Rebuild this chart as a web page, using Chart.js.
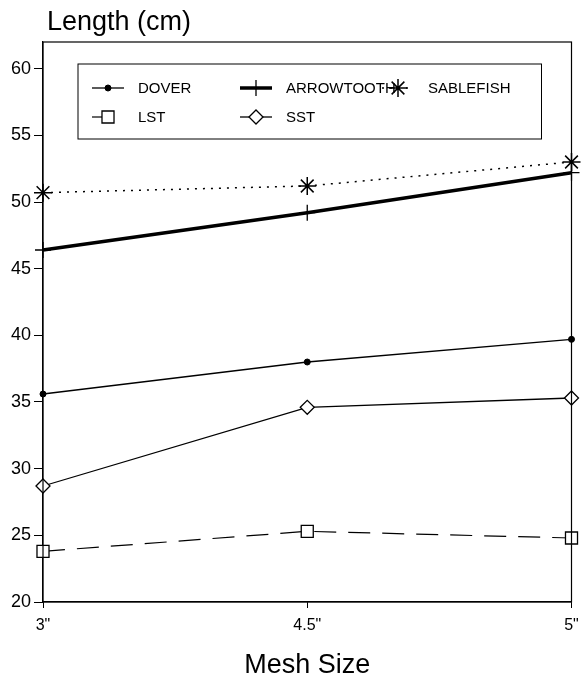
<!DOCTYPE html>
<html>
<head>
<meta charset="utf-8">
<script src="https://cdn.jsdelivr.net/npm/chart.js@4.4.1/dist/chart.umd.min.js"></script>
<style>
html,body{margin:0;padding:0;background:#fff;}
</style>
</head>
<body>
<canvas id="chart" width="582" height="683"></canvas>
<script>
// mesh sizes on the x axis
const meshSizes = ['3"', '4.5"', '5"'];

// mean length (cm) per species
const dover = [35.6, 38.0, 39.7];
const lst = [23.8, 25.3, 24.8];
const arrowtooth = [46.4, 49.2, 52.2];
const sst = [28.7, 34.6, 35.3];
const sablefish = [50.7, 51.2, 53.0];

const yTicks = [20, 25, 30, 35, 40, 45, 50, 55, 60];

Chart.defaults.font.family = '"Liberation Sans", Arial, Helvetica, sans-serif';
Chart.defaults.color = '#000';

// title top-left, frame round the plot, legend box with line samples
const frameAndLegend = {
  id: 'frameAndLegend',
  afterDraw(chart){
    const ctx = chart.ctx;
    const ca = chart.chartArea;
    ctx.save();

    ctx.fillStyle = '#000';
    ctx.font = '27px "Liberation Sans", Arial, sans-serif';
    ctx.textBaseline = 'alphabetic';
    ctx.textAlign = 'left';
    ctx.fillText('Length (cm)', 47, 30);

    ctx.strokeStyle = '#000';
    ctx.lineWidth = 1.2;
    ctx.strokeRect(ca.left, ca.top, ca.right - ca.left, ca.bottom - ca.top);

    // legend box
    const bx = ca.left + 35, by = ca.top + 22;
    const bw = ca.right - 30 - bx, bh = 75;
    ctx.fillStyle = '#fff';
    ctx.fillRect(bx, by, bw, bh);
    ctx.strokeStyle = '#000';
    ctx.lineWidth = 1;
    ctx.strokeRect(bx, by, bw, bh);

    const colX = [ca.left + 65, ca.left + 213, ca.left + 355];
    const rowY = [ca.top + 46, ca.top + 75];
    chart.data.datasets.forEach((ds, i) => {
      const cx = colX[Math.floor(i / 2)];
      const cy = rowY[i % 2];
      ctx.save();
      ctx.strokeStyle = ds.borderColor;
      ctx.lineWidth = ds.borderWidth;
      ctx.setLineDash(ds.borderDash || []);
      ctx.beginPath();
      ctx.moveTo(cx - 16, cy);
      ctx.lineTo(cx + 16, cy);
      ctx.stroke();
      ctx.setLineDash([]);
      ctx.fillStyle = ds.pointBackgroundColor;
      ctx.strokeStyle = ds.borderColor;
      ctx.lineWidth = ds.pointBorderWidth;
      Chart.helpers.drawPoint(ctx, {
        pointStyle: ds.pointStyle,
        radius: ds.pointRadius,
        rotation: 0,
        borderWidth: ds.pointBorderWidth
      }, cx, cy);
      ctx.restore();
      ctx.fillStyle = '#000';
      ctx.font = '15px "Liberation Sans", Arial, sans-serif';
      ctx.textBaseline = 'middle';
      ctx.fillText(ds.label, cx + 30, cy + 1);
    });
    ctx.restore();
  }
};

new Chart(document.getElementById('chart'), {
  type: 'line',
  data: {
    labels: meshSizes,
    datasets: [
      {label: 'DOVER', data: dover, borderColor: '#000', borderWidth: 1.3,
       pointStyle: 'circle', pointRadius: 3, pointBackgroundColor: '#000', pointBorderWidth: 1},
      {label: 'LST', data: lst, borderColor: '#000', borderWidth: 1.2, borderDash: [22, 12],
       pointStyle: 'rect', pointRadius: 8.5, pointBackgroundColor: '#fff', pointBorderWidth: 1.3},
      {label: 'ARROWTOOTH', data: arrowtooth, borderColor: '#000', borderWidth: 3.5,
       pointStyle: 'cross', pointRadius: 8, pointBackgroundColor: '#000', pointBorderWidth: 1.3},
      {label: 'SST', data: sst, borderColor: '#000', borderWidth: 1.3,
       pointStyle: 'rectRot', pointRadius: 7, pointBackgroundColor: '#fff', pointBorderWidth: 1.3},
      {label: 'SABLEFISH', data: sablefish, borderColor: '#000', borderWidth: 1.5, borderDash: [2, 6],
       pointStyle: 'star', pointRadius: 9, pointBackgroundColor: '#000', pointBorderWidth: 1.5}
    ].map(d => Object.assign(d, {tension: 0, fill: false, clip: false, pointBorderColor: '#000'}))
  },
  options: {
    responsive: false,
    animation: false,
    layout: {padding: {top: 42, right: 0, bottom: 0, left: 0}},
    plugins: {legend: {display: false}, tooltip: {enabled: false}},
    scales: {
      x: {
        offset: false,
        grid: {display: true, drawOnChartArea: false, drawTicks: true, tickLength: 6, color: '#000'},
        border: {display: true, color: '#000', width: 1.2},
        ticks: {font: {size: 16}, color: '#000', padding: 8, maxRotation: 0},
        title: {display: true, text: 'Mesh Size', font: {size: 27}, color: '#000', padding: {top: 0, bottom: 1}},
        afterFit(scale){ scale.height = 81; scale.paddingRight = 10; }
      },
      y: {
        min: 20,
        max: 62,
        grid: {display: true, drawOnChartArea: false, drawTicks: true, tickLength: 9, color: '#000'},
        border: {display: true, color: '#000', width: 1.2},
        ticks: {font: {size: 18}, color: '#000', padding: 3},
        afterBuildTicks(scale){ scale.ticks = yTicks.map(v => ({value: v})); },
        afterFit(scale){ scale.width = 43; }
      }
    }
  },
  plugins: [frameAndLegend]
});
</script>
</body>
</html>
